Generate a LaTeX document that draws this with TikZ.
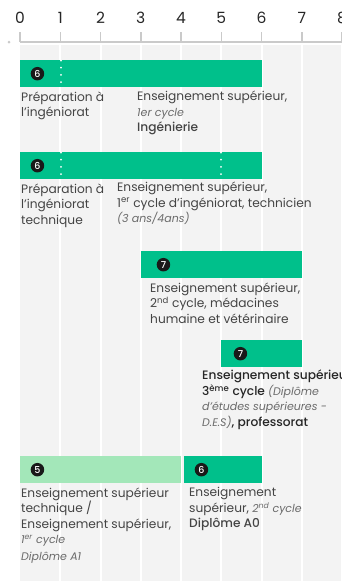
\documentclass[tikz,border=0pt]{standalone}
\usepackage{fontspec}
\setmainfont{Poppins}[BoldFont={Poppins Medium}, BoldItalicFont={Poppins Medium Italic}]
\usetikzlibrary{positioning}
\definecolor{bargreen}{HTML}{00C08B}
\definecolor{barlight}{HTML}{A3E7B9}
\definecolor{colgray}{HTML}{F3F3F3}
\definecolor{axisgray}{HTML}{CACACA}
\definecolor{ink}{HTML}{444444}
\definecolor{inkdark}{HTML}{262626}
\definecolor{muted}{HTML}{6A6A6A}
\newcommand{\cyc}[1]{{\itshape\color{muted}\fontsize{11}{15.5}\selectfont #1}}

\begin{document}
\begin{tikzpicture}[x=1pt, y=-1pt,
    bar/.style={fill=bargreen, draw=none, anchor=north west, minimum height=27pt, inner sep=0pt},
    badge/.style={circle, fill=black!90, text=white, inner sep=0pt, minimum size=13.5pt, font=\fontsize{9.5}{9.5}\selectfont\bfseries},
    lbl/.style={anchor=north west, inner sep=0pt, align=left, text=ink, font=\fontsize{12.2}{15.5}\selectfont},
    dots/.style={white, line width=2pt, dash pattern=on 0pt off 7.2pt, line cap=round}]
  \useasboundingbox (0,0) rectangle (342,581);
  % grid
  \fill[colgray] (20,45) rectangle (342,581);
  \foreach \i in {1,...,8} \draw[white, line width=2pt] (20+40.25*\i,45) -- (20+40.25*\i,581);
  \fill[axisgray] (9,42) circle (1.5);
  \draw[axisgray, line width=2pt] (20,42) -- (342,42);
  \foreach \i in {0,...,8} {
    \node[font=\fontsize{15.5}{15.5}\selectfont, text=black!85] (t\i) at (20+40.25*\i,18) {\i};
    \draw[axisgray, line width=1.5pt] (20+40.25*\i,32) -- (20+40.25*\i,42);
  }

  \node[bar, minimum width=241.5pt] (b1) at (20,60) {};
  \node[badge, right=10.5pt of b1.west] (n1) {6};
  \draw[dots] (61,60.5) -- (61,87);
  \node[lbl, below right=4pt and 1pt of b1.south west] (l1a) {Préparation à\\l'ingéniorat};
  \node[lbl] (l1b) at (137,91) {Enseignement supérieur,\\\cyc{1er cycle}\\\textbf{Ingénierie}};

  \node[bar, minimum width=241.5pt] (b2) at (20,152) {};
  \node[badge, right=10.5pt of b2.west] (n2) {6};
  \draw[dots] (61,152.5) -- (61,178);
  \draw[dots] (221,152.5) -- (221,178);
  \node[lbl, below right=4pt and 1pt of b2.south west] (l2a) {Préparation à\\l'ingéniorat\\technique};
  \node[lbl] (l2b) at (117,182) {Enseignement supérieur,\\1\textsuperscript{er} cycle d'ingéniorat, technicien\\\cyc{(3 ans/4ans)}};

  \node[bar, minimum width=160.75pt] (b3) at (141,251) {};
  \node[badge, right=15.5pt of b3.west] (n3) {7};
  \node[lbl, below right=4pt and 9pt of b3.south west] (l3) {Enseignement supérieur,\\2\textsuperscript{nd} cycle, médacines\\humaine et vétérinaire};

  \node[bar, minimum width=80.75pt] (b4) at (221,340) {};
  \node[badge, right=12.5pt of b4.west] (n4) {7};
  \node[lbl, text=inkdark, font=\fontsize{12.2}{15.5}\selectfont\bfseries] (l4) at (202,370) {Enseignement supérieur\\3\textsuperscript{ème} cycle \cyc{\mdseries(Diplôme}\\\cyc{\mdseries d'études supérieures -}\\\cyc{\mdseries D.E.S)}, professorat};

  \node[bar, fill=barlight, minimum width=161pt] (b5) at (20,456) {};
  \node[badge, right=10.5pt of b5.west] (n5) {5};
  \node[bar, minimum width=77.5pt] (b6) at (184,456) {};
  \node[badge, right=10.5pt of b6.west] (n6) {6};
  \node[lbl, below right=4pt and 1pt of b5.south west] (l5) {Enseignement supérieur\\technique /\\Enseignement supérieur,\\\cyc{1\textsuperscript{er} cycle}\\[1pt]\cyc{Diplôme A1}};
  \node[lbl, below right=4pt and 5pt of b6.south west] (l6) {Enseignement\\supérieur, \cyc{2\textsuperscript{nd} cycle}\\\textbf{Diplôme A0}};
\end{tikzpicture}
\end{document}
